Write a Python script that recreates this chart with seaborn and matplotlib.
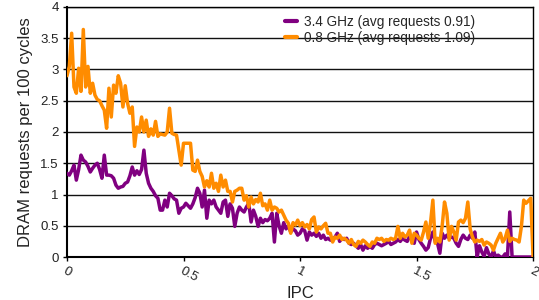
import numpy as np
import pandas as pd
import matplotlib
matplotlib.use("Agg")
import matplotlib.pyplot as plt
import seaborn as sns

ipc = [round(i * 0.01, 2) for i in range(201)]

ghz_08 = [
    2.90, 3.05, 3.58, 2.72, 2.62, 3.02, 2.65, 3.64, 2.72, 3.05,
    2.62, 2.78, 2.59, 2.52, 2.50, 2.42, 2.35, 2.06, 2.70, 2.24,
    2.75, 2.62, 2.90, 2.78, 2.40, 2.74, 2.46, 2.30, 2.40, 1.77,
    2.08, 2.00, 2.24, 2.00, 2.19, 1.93, 2.05, 1.95, 2.17, 1.93,
    1.97, 1.96, 1.95, 2.00, 2.38, 1.98, 1.96, 1.95, 1.71, 1.47,
    1.82, 1.82, 1.82, 1.82, 1.39, 1.37, 1.55, 1.37, 1.29, 1.12,
    1.22, 1.12, 1.34, 1.10, 1.18, 1.05, 1.31, 1.12, 1.23, 1.05,
    1.05, 0.88, 1.05, 1.07, 1.10, 1.10, 0.91, 0.98, 0.80, 0.96,
    0.85, 0.92, 0.88, 1.02, 0.82, 0.85, 0.75, 0.91, 0.75, 0.80,
    0.78, 0.72, 0.75, 0.67, 0.59, 0.54, 0.38, 0.55, 0.51, 0.59,
    0.50, 0.55, 0.48, 0.52, 0.45, 0.60, 0.64, 0.40, 0.48, 0.45,
    0.50, 0.54, 0.38, 0.38, 0.24, 0.32, 0.30, 0.35, 0.28, 0.30,
    0.27, 0.22, 0.28, 0.20, 0.17, 0.25, 0.22, 0.27, 0.24, 0.20,
    0.17, 0.24, 0.22, 0.30, 0.28, 0.30, 0.25, 0.28, 0.27, 0.30,
    0.28, 0.30, 0.49, 0.30, 0.38, 0.32, 0.35, 0.43, 0.22, 0.38,
    0.35, 0.30, 0.27, 0.40, 0.56, 0.30, 0.55, 0.91, 0.22, 0.30,
    0.24, 0.50, 0.88, 0.70, 0.27, 0.49, 0.40, 0.27, 0.56, 0.59,
    0.55, 0.62, 0.88, 0.45, 0.32, 0.24, 0.27, 0.25, 0.28, 0.19,
    0.24, 0.22, 0.19, 0.11, 0.22, 0.30, 0.38, 0.24, 0.30, 0.43,
    0.25, 0.30, 0.28, 0.27, 0.24, 0.49, 0.91, 0.86, 0.90, 0.94,
    0.00,
]

ghz_34 = [
    1.34, 1.31, 1.38, 1.47, 1.23, 1.40, 1.63, 1.55, 1.52, 1.45,
    1.36, 1.42, 1.47, 1.50, 1.40, 1.26, 1.63, 1.31, 1.31, 1.30,
    1.26, 1.15, 1.10, 1.12, 1.13, 1.18, 1.20, 1.30, 1.44, 1.31,
    1.38, 1.32, 1.40, 1.71, 1.34, 1.18, 1.10, 1.05, 0.98, 0.94,
    0.75, 0.75, 0.91, 0.80, 1.02, 0.98, 0.93, 0.91, 0.70, 0.78,
    0.80, 0.86, 0.82, 0.78, 0.85, 0.95, 1.10, 1.02, 0.80, 1.07,
    0.62, 0.91, 0.85, 0.91, 0.80, 0.75, 0.70, 0.88, 0.91, 0.65,
    0.85, 0.78, 0.49, 0.70, 0.80, 0.75, 0.72, 0.80, 0.86, 0.56,
    0.75, 0.65, 0.49, 0.62, 0.55, 0.60, 0.58, 0.62, 0.70, 0.24,
    0.70, 0.50, 0.38, 0.55, 0.45, 0.50, 0.40, 0.45, 0.42, 0.35,
    0.38, 0.45, 0.42, 0.27, 0.40, 0.35, 0.38, 0.33, 0.38, 0.30,
    0.35, 0.28, 0.30, 0.27, 0.27, 0.32, 0.38, 0.25, 0.30, 0.28,
    0.30, 0.22, 0.20, 0.22, 0.18, 0.14, 0.20, 0.11, 0.18, 0.14,
    0.17, 0.14, 0.20, 0.22, 0.20, 0.18, 0.20, 0.22, 0.25, 0.20,
    0.22, 0.24, 0.28, 0.25, 0.30, 0.27, 0.25, 0.33, 0.28, 0.22,
    0.40, 0.28, 0.22, 0.17, 0.11, 0.15, 0.30, 0.40, 0.25, 0.22,
    0.06, 0.38, 0.30, 0.35, 0.30, 0.32, 0.30, 0.22, 0.17, 0.28,
    0.35, 0.30, 0.28, 0.35, 0.30, 0.40, 0.00, 0.18, 0.08, 0.01,
    0.15, 0.05, 0.00, 0.10, 0.00, 0.03, 0.00, 0.00, 0.05, 0.00,
    0.72, 0.00, 0.00, 0.00, 0.00, 0.00, 0.00, 0.00, 0.00, 0.00,
    0.00,
]

labels = ["3.4 GHz (avg requests 0.91)", "0.8 GHz (avg requests 1.09)"]
colors = ["#800080", "#FF8C00"]
y_ticks = [0, 0.5, 1, 1.5, 2, 2.5, 3, 3.5, 4]
x_ticks = [0, 0.5, 1, 1.5, 2]

df = pd.DataFrame({
    "IPC": ipc * 2,
    "value": ghz_34 + ghz_08,
    "series": [labels[0]] * len(ipc) + [labels[1]] * len(ipc),
})

sns.set_theme(style="white")
plt.rcParams["font.family"] = ["Liberation Sans", "DejaVu Sans"]

fig = plt.figure(figsize=(5.39, 3.0), dpi=100)
ax = fig.add_axes([0.1243, 0.1433, 0.9890 - 0.1243, 0.9767 - 0.1433])

sns.lineplot(data=df, x="IPC", y="value", hue="series", hue_order=labels,
             palette=colors, linewidth=2.5, ax=ax, legend=True, zorder=3)

ax.set_xlim(0, 2)
ax.set_ylim(0, 4)
ax.set_yticks(y_ticks)
ax.set_yticklabels([f"{t:g}" for t in y_ticks], fontsize=9.5, color="#222222")
ax.set_xticks(x_ticks)
ax.set_xticklabels([f"{t:g}" for t in x_ticks], fontsize=9.5, color="#222222",
                   rotation=-28, ha="left", rotation_mode="anchor")
ax.tick_params(axis="both", direction="out", length=3, width=1, color="black",
               left=True, bottom=True, pad=3)
ax.yaxis.grid(True, color="#111111", linewidth=1)
ax.set_axisbelow(True)
for s in ax.spines.values():
    s.set_color("black")
    s.set_linewidth(1)
ax.spines["left"].set_linewidth(1.5)
ax.spines["bottom"].set_linewidth(1.5)

ax.set_xlabel("IPC", fontsize=12, color="#222222", labelpad=1)
ax.set_ylabel("DRAM requests per 100 cycles", fontsize=12, color="#222222", labelpad=5)

leg = ax.legend(loc="upper left", bbox_to_anchor=(0.455, 0.99), frameon=False,
                fontsize=9.8, handlelength=0.9, handletextpad=0.5,
                labelspacing=0.15, borderaxespad=0)
for h in leg.get_lines():
    h.set_linewidth(3)

fig.savefig("out.png", dpi=100)
